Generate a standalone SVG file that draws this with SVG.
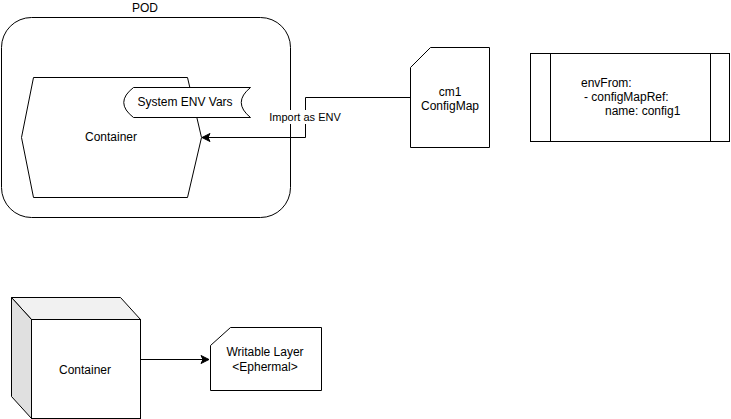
<svg xmlns="http://www.w3.org/2000/svg" width="731" height="419" viewBox="0 0 731 419">
<style>
.s{fill:#fff;stroke:#000;stroke-width:1}
.t{font-family:"Liberation Sans",Arial,sans-serif;font-size:12px;fill:#000;text-anchor:middle;dominant-baseline:central}
.l{text-anchor:start}
.c{fill:none;stroke:#000;stroke-width:1}
</style>
<defs>
<marker id="ah" markerWidth="10" markerHeight="10" refX="9" refY="5" orient="auto" markerUnits="userSpaceOnUse">
<path d="M1,1 L9,5 L1,9 L3,5 Z" fill="#000" stroke="#000"/>
</marker>
</defs>
<rect width="731" height="419" fill="#fff"/>
<g id="pod">
<rect class="s" x="1.5" y="17.5" width="289" height="200" rx="30" ry="30"/>
<text class="t" x="145" y="8">POD</text>
</g>
<g id="container1">
<polygon class="s" points="33.5,77.5 187.5,77.5 201.5,137.5 187.5,197.5 33.5,197.5 21.5,137.5"/>
<text class="t" x="111" y="137">Container</text>
</g>
<g id="sysenv">
<path class="s" d="M133.5,87.5 L250.5,87.5 Q232,102.5 250.5,117.5 L133.5,117.5 Q114,102.5 133.5,87.5 Z"/>
<text class="t" x="185" y="102">System ENV Vars</text>
</g>
<g id="configmap">
<path class="s" d="M430.5,47.5 L489.5,47.5 L489.5,147.5 L410.5,147.5 L410.5,67.5 Z"/>
<text class="t" x="450" y="92">cm1</text>
<text class="t" x="450" y="106">ConfigMap</text>
</g>
<g id="envfrom">
<rect class="s" x="530.5" y="53.5" width="199" height="88"/>
<line class="c" x1="550.5" y1="53.5" x2="550.5" y2="141.5"/>
<line class="c" x1="710.5" y1="53.5" x2="710.5" y2="141.5"/>
<text class="t l" x="581" y="83">envFrom:</text>
<text class="t l" x="584" y="97">- configMapRef:</text>
<text class="t l" x="605" y="111">name: config1</text>
</g>
<g id="container2">
<polygon points="11.5,297.5 120.5,297.5 140.5,319.5 31.5,319.5" fill="#f1f1f1" stroke="#000"/>
<polygon points="11.5,297.5 31.5,319.5 31.5,418.5 11.5,396.5" fill="#e0e0e0" stroke="#000"/>
<rect class="s" x="31.5" y="319.5" width="109" height="99"/>
<text class="t" x="85" y="370">Container</text>
</g>
<g id="writable">
<path class="s" d="M230.5,327.5 L321.5,327.5 L321.5,390.5 L210.5,390.5 L210.5,345.5 Z"/>
<text class="t" x="265" y="352">Writable Layer</text>
<text class="t" x="265" y="367">&lt;Ephermal&gt;</text>
</g>
<g id="connectors">
<path class="c" d="M410.5,97.5 L305.5,97.5 L305.5,137.5 L202,137.5" marker-end="url(#ah)"/>
<rect x="269" y="110" width="73" height="14" fill="#fff"/>
<text class="t" x="305" y="117" style="font-size:11px">Import as ENV</text>
<path class="c" d="M140.5,359.5 L209,359.5" stroke="#333" marker-end="url(#ah)"/>
</g>
</svg>
